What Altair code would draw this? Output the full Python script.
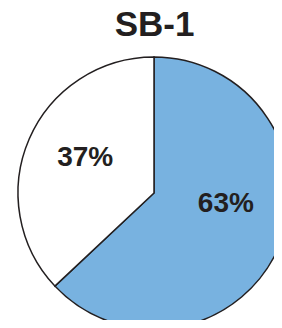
import altair as alt
import pandas as pd

categories = ["Blue", "White"]
values = [63, 37]
labels = ["63%", "37%"]
colors = ["#78B2E0", "#FFFFFF"]
title_text = "SB-1"

df = pd.DataFrame({"cat": categories, "value": values, "label": labels, "order": [0, 1]})

cx, cy, R = 146, 185, 136
font = "Liberation Sans"
ink = "#231F20"

pie = alt.Chart(df).mark_arc(outerRadius=R, stroke=ink, strokeWidth=1.5).encode(
    theta=alt.Theta("value:Q", stack=True),
    order=alt.Order("order:Q"),
    color=alt.Color("cat:N", scale=alt.Scale(domain=categories, range=colors), legend=None),
    x=alt.value(cx), y=alt.value(cy),
)

lab_base = alt.Chart(df).transform_window(
    cum="sum(value)", sort=[alt.SortField("order")]
).transform_calculate(mid="datum.cum - datum.value / 2")


def label_layer(cat, dx, dy):
    return lab_base.transform_filter(alt.datum.cat == cat).mark_text(
        radius=75, fontSize=28, fontWeight="bold", font=font, color=ink,
        dx=dx, dy=dy, baseline="middle", align="center"
    ).encode(
        theta=alt.Theta("mid:Q", scale=alt.Scale(domain=[0, 100]), stack=False),
        text="label:N", x=alt.value(cx), y=alt.value(cy),
    )


t63 = label_layer("Blue", 3, -19)
t37 = label_layer("White", 0, -5)

title = alt.Chart(pd.DataFrame({"t": [title_text]})).mark_text(
    fontSize=35, fontWeight="bold", font=font, color=ink, baseline="middle", align="center"
).encode(text="t:N", x=alt.value(146.5), y=alt.value(17))

chart = alt.layer(pie, t63, t37, title).properties(
    width=266, height=312, autosize=alt.AutoSizeParams(type="none"), padding=0
).configure_view(stroke=None)

chart.save("out.html", embed_options={"renderer": "svg", "actions": False})
